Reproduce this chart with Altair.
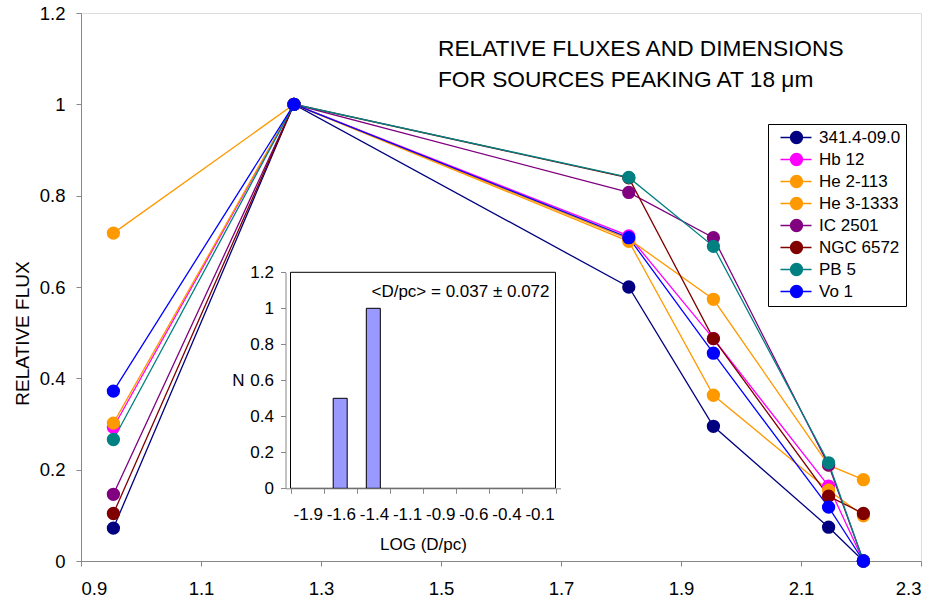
import json
import altair as alt
import pandas as pd

# ---------------- data ----------------
log_lambda = [0.954, 1.255, 1.813, 1.954, 2.146, 2.204]

series_names = ["341.4-09.0", "Hb 12", "He 2-113", "He 3-1333",
                "IC 2501", "NGC 6572", "PB 5", "Vo 1"]
series_colors = ["#000080", "#FF00FF", "#FF9900", "#FF9900",
                 "#800080", "#800000", "#008080", "#0000FF"]

flux_341 = [0.072, 1.0, 0.600, 0.295, 0.074, 0.0]
flux_hb12 = [0.293, 1.0, 0.712, 0.487, 0.164, 0.0]
flux_he2113 = [0.718, 1.0, 0.705, 0.573, 0.210, 0.178]
flux_he31333 = [0.302, 1.0, 0.700, 0.363, 0.155, 0.099]
flux_ic2501 = [0.146, 1.0, 0.807, 0.708, 0.210, 0.0]
flux_ngc6572 = [0.104, 1.0, 0.839, 0.487, 0.142, 0.104]
flux_pb5 = [0.266, 1.0, 0.840, 0.689, 0.215, 0.0]
flux_vo1 = [0.372, 1.0, 0.708, 0.455, 0.118, 0.0]

all_flux = [flux_341, flux_hb12, flux_he2113, flux_he31333,
            flux_ic2501, flux_ngc6572, flux_pb5, flux_vo1]

x_domain = [0.9, 2.3]
x_ticks = [0.9, 1.1, 1.3, 1.5, 1.7, 1.9, 2.1, 2.3]
y_domain = [0.0, 1.2]
y_ticks = [0.0, 0.2, 0.4, 0.6, 0.8, 1.0, 1.2]

title_lines = ["RELATIVE FLUXES AND DIMENSIONS",
               "FOR SOURCES PEAKING AT 18 \u03bcm"]

# inset histogram
hist_labels = ["-1.9", "-1.6", "-1.4", "-1.1", "-0.9", "-0.6", "-0.4", "-0.1"]
hist_counts = [0.0, 0.5, 1.0, 0.0, 0.0, 0.0, 0.0, 0.0]
inset_y_domain = [0.0, 1.2]
inset_y_ticks = [0.0, 0.2, 0.4, 0.6, 0.8, 1.0, 1.2]
inset_note = "<D/pc> = 0.037 \u00b1 0.072"
inset_note_y = 1.09

FONT = "Liberation Sans"

# ---------------- tables ----------------
rows = []
for name, vals in zip(series_names, all_flux):
    for x, v in zip(log_lambda, vals):
        rows.append({"series": name, "x": x, "flux": v})
df = pd.DataFrame(rows)

n_bins = len(hist_labels)
hist_df = pd.DataFrame({
    "bin": hist_labels,
    "pos": [i + 0.5 for i in range(n_bins)],
    "N": hist_counts,
})
frame_df = pd.DataFrame([{"x0": 0, "x1": n_bins,
                          "y0": inset_y_domain[0], "y1": inset_y_domain[1]}])
note_df = pd.DataFrame([{"pos": n_bins, "N": inset_note_y, "txt": inset_note}])

# ---------------- layout numbers (pixels) ----------------
W, H = 840, 548
inset_x_range = [204.5, 479.5]
inset_y_range = [475.3, 259.3]

color_scale = alt.Scale(domain=series_names, range=series_colors)

# custom legend symbol: short line with a circle on it
leg_path = ("M-0.167,0L5,0"
            "M1.5,0A1,1,0,1,1,3.5,0A1,1,0,1,1,1.5,0Z")

legend = alt.Legend(title=None, orient="none",
                    legendX=687, legendY=111,
                    symbolType=leg_path, symbolSize=144,
                    symbolStrokeWidth=1.3,
                    labelFontSize=17, labelFont=FONT,
                    labelOffset=29, rowPadding=3,
                    padding=5, strokeColor="black",
                    fillColor="white")

x_enc = alt.X("x:Q", scale=alt.Scale(domain=x_domain, nice=False, zero=False),
              axis=alt.Axis(values=x_ticks, format=".1f", title=None,
                            labelFontSize=18.5, labelPadding=13, tickSize=5,
                            grid=False, labelFont=FONT))
y_enc = alt.Y("flux:Q", scale=alt.Scale(domain=y_domain, nice=False),
              axis=alt.Axis(values=y_ticks, labelExpr="format(datum.value, '.1~f')",
                            title="RELATIVE FLUX", titleFontSize=19,
                            titleFontWeight="normal", titleX=-59, titleY=320,
                            titleAngle=270, titleAlign="center",
                            titleBaseline="middle",
                            labelFontSize=18.5, labelPadding=11, tickSize=5,
                            grid=False, labelFont=FONT, titleFont=FONT))

base = alt.Chart(df).encode(x=x_enc, y=y_enc)

lines = base.mark_line(strokeWidth=1.3).encode(
    color=alt.Color("series:N", scale=color_scale, legend=legend),
)
points = base.mark_point(filled=True, size=177, opacity=1).encode(
    color=alt.Color("series:N", scale=color_scale, legend=legend),
)
main = alt.layer(lines, points)

# ---------------- inset ----------------
label_arr = json.dumps(hist_labels)
ix_scale = alt.Scale(domain=[0, n_bins], range=inset_x_range, nice=False, zero=False)
iy_scale = alt.Scale(domain=inset_y_domain, range=inset_y_range, nice=False, zero=False)
step = (inset_x_range[1] - inset_x_range[0]) / n_bins

frame = alt.Chart(frame_df).mark_rect(fill="white", stroke="black", strokeWidth=1).encode(
    x=alt.X("x0:Q", scale=ix_scale,
            axis=alt.Axis(orient="bottom", offset=-(H - inset_y_range[0]),
                          values=list(range(n_bins + 1)),
                          labelExpr=f"datum.value < {n_bins} ? {label_arr}[datum.value] : ''",
                          labelOffset=step / 2, labelFontSize=17, labelFont=FONT,
                          labelPadding=13, tickSize=5, labelBound=False,
                          labelOverlap=False, labelFlush=False, grid=False,
                          title="LOG (D/pc)", titleFontSize=17, titleFont=FONT,
                          titleFontWeight="normal", titleY=56,
                          titleBaseline="middle", zindex=1)),
    x2="x1:Q",
    y=alt.Y("y0:Q", scale=iy_scale,
            axis=alt.Axis(orient="left", offset=-inset_x_range[0],
                          values=inset_y_ticks,
                          labelExpr="format(datum.value, '.1~f')",
                          labelFontSize=17, labelFont=FONT, labelPadding=7,
                          tickSize=5, grid=False,
                          title="N", titleAngle=0, titleFontSize=17,
                          titleFont=FONT, titleFontWeight="normal",
                          titleX=-47.5, titleY=367, titleAlign="center",
                          titleBaseline="middle", zindex=1)),
    y2="y1:Q",
)

bars = alt.Chart(hist_df).transform_filter("datum.N > 0").mark_bar(
    size=14, color="#9999FF", stroke="black", strokeWidth=1
).encode(
    x=alt.X("pos:Q", scale=ix_scale),
    y=alt.Y("N:Q", scale=iy_scale),
)

note = alt.Chart(note_df).mark_text(
    align="right", baseline="middle", dx=-6, fontSize=17, font=FONT, color="black"
).encode(
    x=alt.X("pos:Q", scale=ix_scale),
    y=alt.Y("N:Q", scale=iy_scale),
    text="txt:N",
)

inset = alt.layer(frame, bars, note)

chart = alt.layer(main, inset).resolve_scale(
    x="independent", y="independent"
).properties(
    width=W, height=H,
    title=alt.TitleParams(text=title_lines, anchor="start", dx=425, dy=88,
                          fontSize=22.7, fontWeight="normal", font=FONT,
                          baseline="top", lineHeight=31, offset=0, color="black"),
    autosize=alt.AutoSizeParams(type="none"),
    padding={"left": 81, "top": 13, "right": 940 - 81 - W, "bottom": 600 - 13 - H},
).configure_view(
    stroke="black", strokeWidth=1
).configure_axis(
    domainColor="black", tickColor="black", labelColor="black", titleColor="black"
).configure(background="white")

chart.save("out.html", embed_options={"renderer": "svg", "actions": False})
